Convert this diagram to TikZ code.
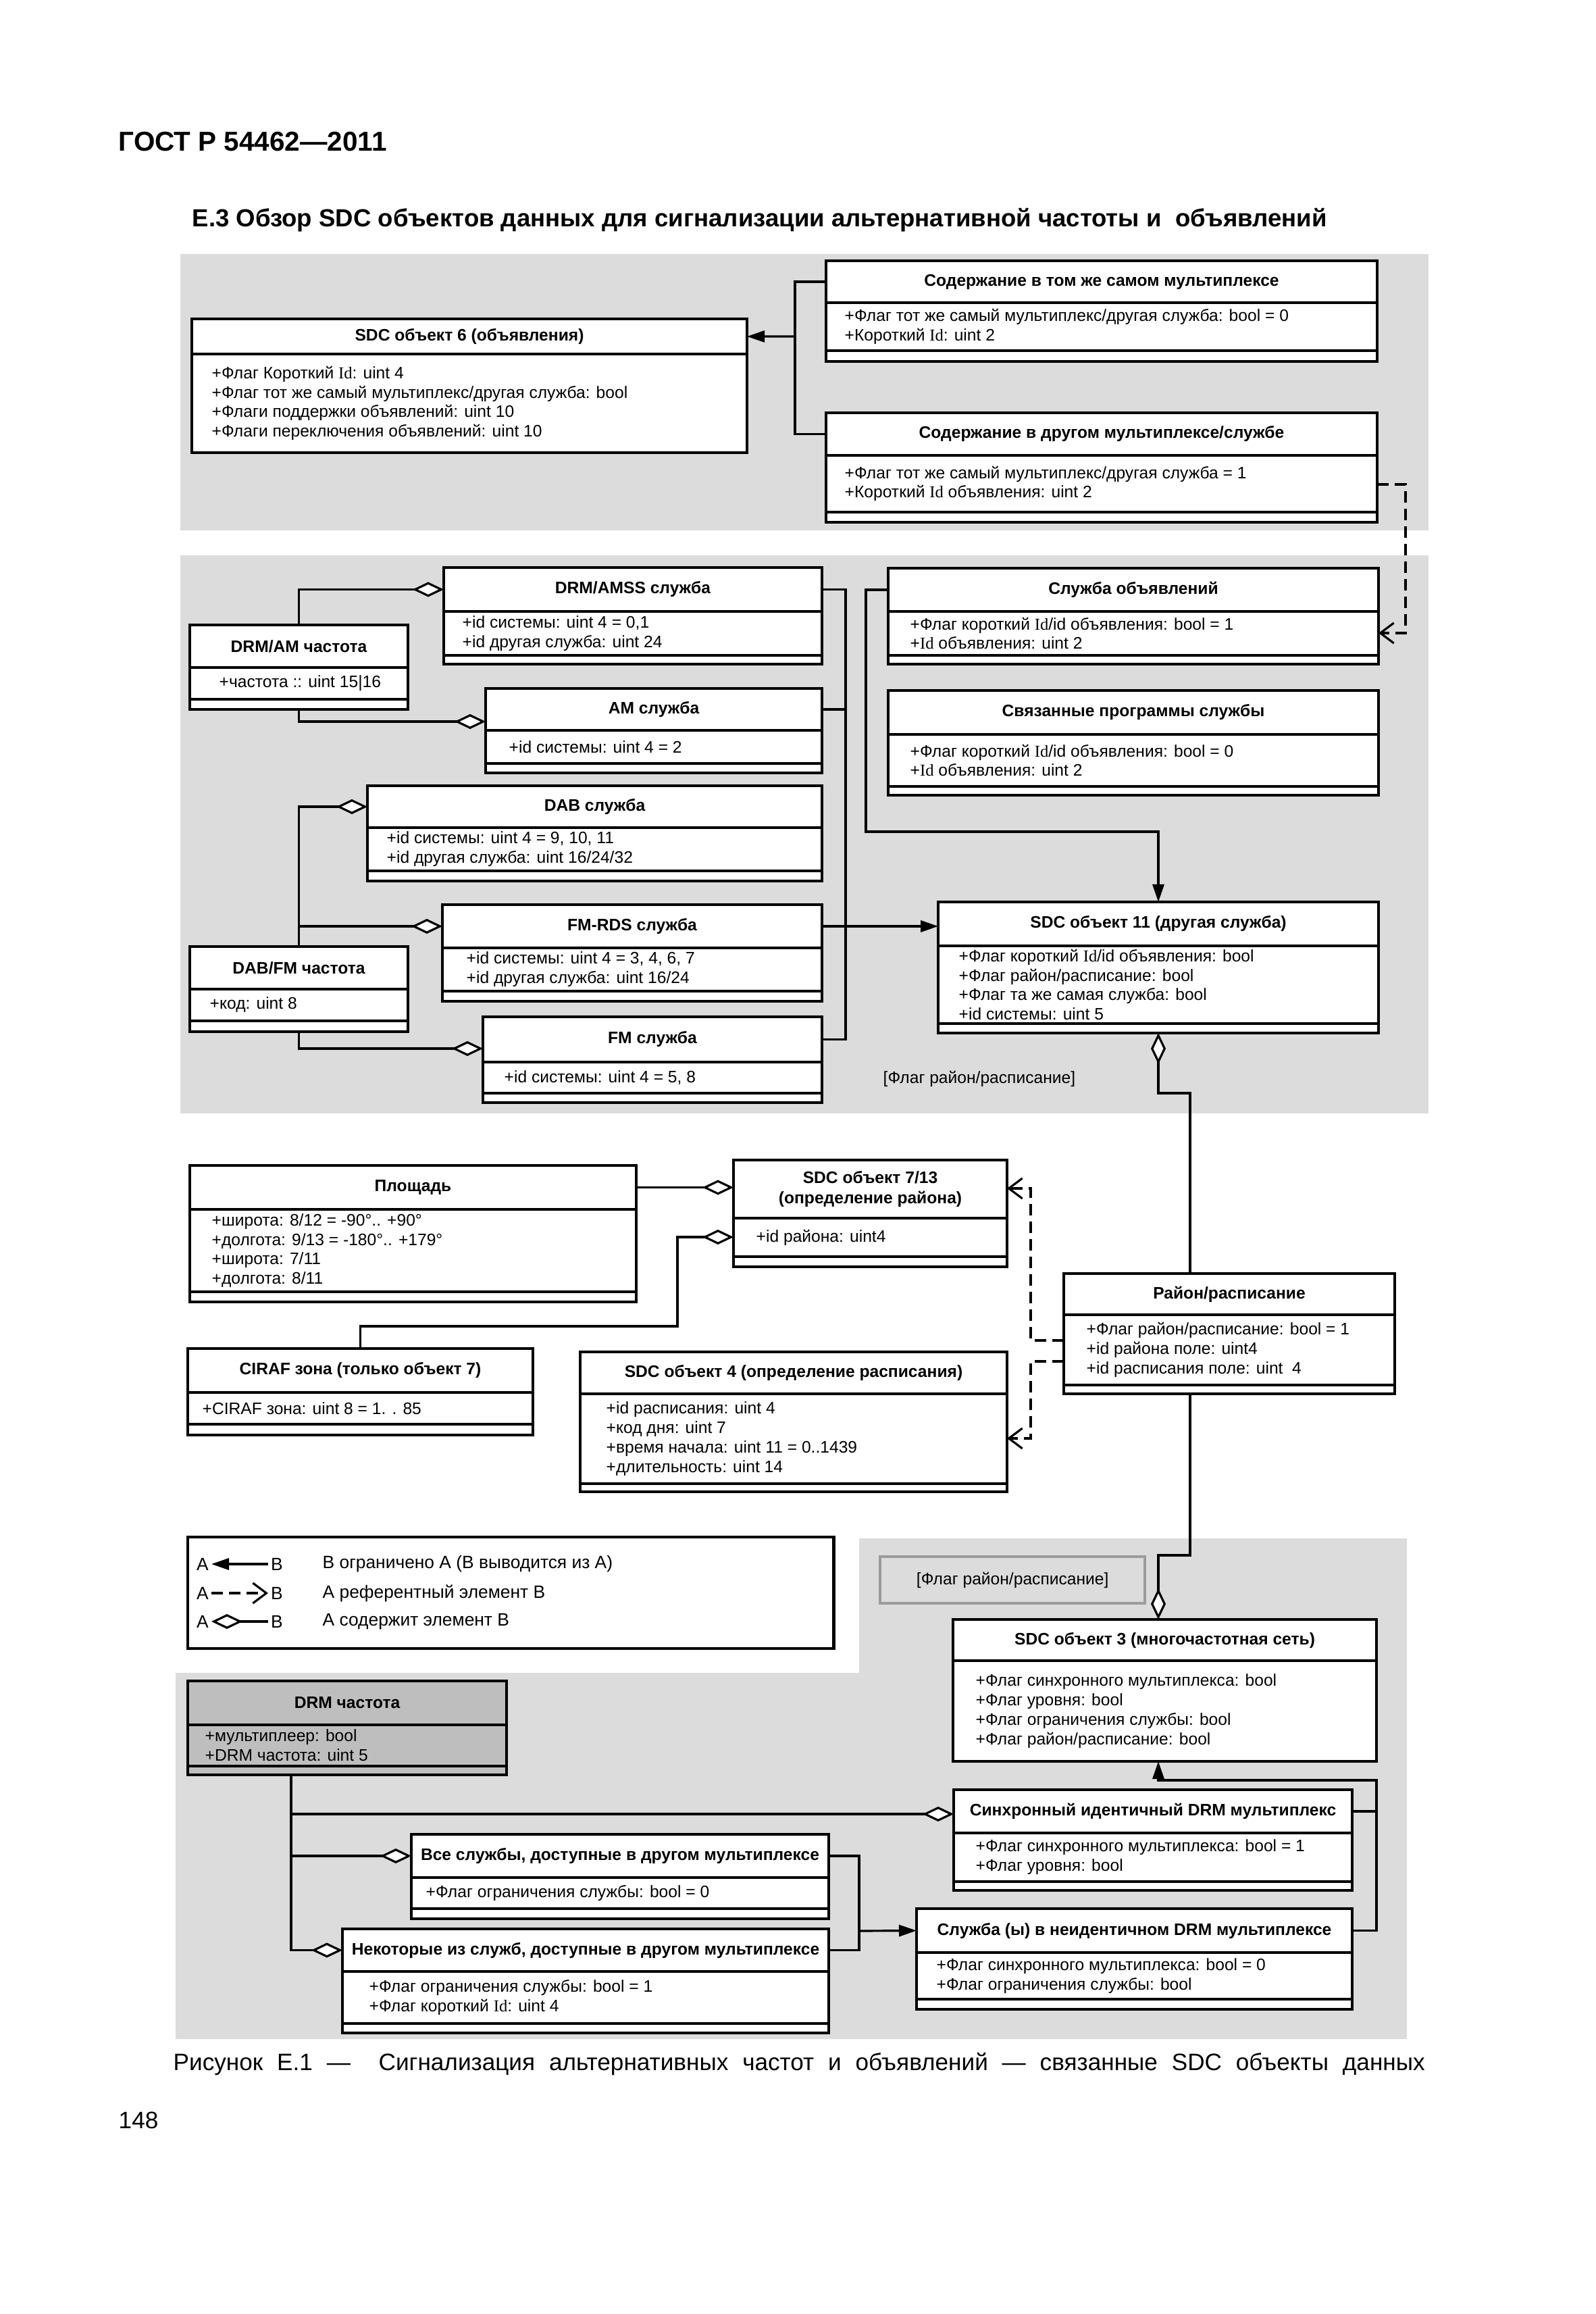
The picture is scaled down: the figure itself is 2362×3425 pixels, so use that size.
\documentclass[tikz,border=0pt]{standalone}
\usepackage{fontspec}
\setmainfont{Liberation Sans}
\newfontfamily\idfont{Liberation Serif}
\usetikzlibrary{arrows.meta}
\newcommand{\myId}{{\idfont Id}}
\definecolor{panelgrey}{RGB}{220,220,220}
\definecolor{boxgrey}{RGB}{190,190,190}
\definecolor{labelgrey}{RGB}{155,155,155}
\tikzset{
  umlframe/.style={draw=black, line width=1pt, inner sep=0pt, outer sep=0pt, anchor=north west, rectangle},
  umltitle/.style={inner sep=0pt, outer sep=0pt, anchor=north west, align=center, font=\fontsize{7}{8.5}\selectfont\bfseries},
  umlattr/.style={inner sep=0pt, anchor=west, align=left, font=\fontsize{7}{8.2}\selectfont},
  frameline/.style={line width=1pt},
  conn/.style={line width=0.9pt},
  gen/.style={conn, -{Triangle[length=0.26cm, width=0.17cm]}},
  agg/.style={conn, -{Diamond[fill=white, length=0.46cm, width=0.22cm]}},
  aggs/.style={conn, {Diamond[fill=white, length=0.46cm, width=0.22cm]}-},
  dep/.style={conn, dash pattern=on 0.17cm off 0.09cm, -{Straight Barb[length=0.2cm, width=0.3cm]}},
  lgtxt/.style={inner sep=1pt, font=\fontsize{7.5}{9}\selectfont},
  plain/.style={inner sep=0pt, font=\fontsize{7}{8.5}\selectfont},
}
\def\getfour#1,#2,#3,#4\relax{\def\bxa{#1}\def\bya{#2}\def\bxb{#3}\def\byb{#4}}
\def\gettwo#1,#2\relax{\def\dda{#1}\def\ddb{#2}}
\newcommand{\umlbox}[7]{%
  \getfour#3\relax
  \gettwo#4\relax
  \pgfmathsetmacro\bw{(\bxb-\bxa)*0.01}%
  \pgfmathsetmacro\bh{(\byb-\bya)*0.01}%
  \pgfmathsetmacro\bth{(\dda-\bya)*0.01}%
  \ifx\ddb\empty\let\ddc\byb\else\let\ddc\ddb\fi
  \pgfmathsetmacro\ay{(\dda+\ddc)/2}%
  \node[umlframe, fill=#2, minimum width=\bw cm, minimum height=\bh cm] (#1) at (\bxa,\bya) {};
  \node[umltitle, minimum width=\bw cm, minimum height=\bth cm] (#1-t) at (\bxa,\bya) {#6};
  \draw[frameline] (\bxa,\dda) -- (\bxb,\dda);
  \ifx\ddb\empty\else\draw[frameline] (\bxa,\ddb) -- (\bxb,\ddb);\fi
  \node[umlattr] (#1-a) at ({\bxa+#5},\ay) {#7};
}
\begin{document}
\begin{tikzpicture}[x=0.01cm, y=-0.01cm]
\useasboundingbox (0,0) rectangle (2362,3425);
\fill[white] (0,0) rectangle (2362,3425);

% headings
\node[anchor=west, inner sep=0, font=\fontsize{11.5}{13}\selectfont\bfseries] (hdr) at (175,210) {ГОСТ Р 54462—2011};
\node[anchor=west, inner sep=0, font=\fontsize{10.4}{12}\selectfont\bfseries] (ttl) at (284,326) {Е.3 Обзор SDC объектов данных для сигнализации альтернативной частоты и\ \ объявлений};

% panels
\fill[panelgrey] (267,376) rectangle (2115,785);
\fill[panelgrey] (267,822) rectangle (2115,1648);
\fill[panelgrey] (1272,2277) -- (2083,2277) -- (2083,3018) -- (260,3018) -- (260,2476) -- (1272,2476) -- cycle;

% top panel
\umlbox{sdc6}{white}{284,472,1106,670}{524,}{29}{SDC объект 6 (объявления)}{+Флаг Короткий \myId: uint 4\\+Флаг тот же самый мультиплекс/другая служба: bool\\+Флаги поддержки объявлений: uint 10\\+Флаги переключения объявлений: uint 10}
\umlbox{same}{white}{1223,386,2039,535}{448,519}{27}{Содержание в том же самом мультиплексе}{+Флаг тот же самый мультиплекс/другая служба: bool = 0\\+Короткий \myId: uint 2}
\umlbox{other}{white}{1223,611,2039,773}{674,758}{27}{Содержание в другом мультиплексе/службе}{+Флаг тот же самый мультиплекс/другая служба = 1\\+Короткий \myId\ объявления: uint 2}

% second panel
\umlbox{amss}{white}{657,840,1217,983}{905,970}{27}{DRM/AMSS служба}{+id системы: uint 4 = 0,1\\+id другая служба: uint 24}
\umlbox{drmam}{white}{281,925,604,1050}{988,1035}{43}{DRM/AM частота}{+частота :: uint 15|16}
\umlbox{am}{white}{719,1019,1217,1144}{1081,1130}{34}{AM служба}{+id системы: uint 4 = 2}
\umlbox{dab}{white}{544,1163,1217,1304}{1225,1289}{28}{DAB служба}{+id системы: uint 4 = 9, 10, 11\\+id другая служба: uint 16/24/32}
\umlbox{fmrds}{white}{655,1339,1217,1482}{1403,1467}{35}{FM-RDS служба}{+id системы: uint 4 = 3, 4, 6, 7\\+id другая служба: uint 16/24}
\umlbox{dabfm}{white}{281,1401,604,1527}{1464,1511}{29}{DAB/FM частота}{+код: uint 8}
\umlbox{fm}{white}{715,1505,1217,1632}{1572,1618}{31}{FM служба}{+id системы: uint 4 = 5, 8}
\umlbox{ann}{white}{1315,841,2041,983}{905,970}{32}{Служба объявлений}{+Флаг короткий \myId/id объявления: bool = 1\\+\myId\ объявления: uint 2}
\umlbox{assoc}{white}{1315,1022,2041,1177}{1087,1164}{32}{Связанные программы службы}{+Флаг короткий \myId/id объявления: bool = 0\\+\myId\ объявления: uint 2}
\umlbox{sdc11}{white}{1389,1335,2041,1529}{1400,1515}{30}{SDC объект 11 (другая служба)}{+Флаг короткий \myId/id объявления: bool\\+Флаг район/расписание: bool\\+Флаг та же самая служба: bool\\+id системы: uint 5}
\node[plain, anchor=west] (flaglbl) at (1307,1597) {[Флаг район/расписание]};

% middle
\umlbox{plosh}{white}{281,1725,942,1927}{1790,1912}{32}{Площадь}{+широта: 8/12 = -90°.. +90°\\+долгота: 9/13 = -180°.. +179°\\+широта: 7/11\\+долгота: 8/11}
\umlbox{sdc713}{white}{1086,1717,1491,1875}{1803,1860}{33}{SDC объект 7/13\\(определение района)}{+id района: uint4}
\umlbox{ciraf}{white}{278,1996,789,2124}{2061,2108}{21}{CIRAF зона (только объект 7)}{+CIRAF зона: uint 8 = 1. . 85}
\umlbox{sdc4}{white}{859,2001,1491,2208}{2063,2196}{38}{SDC объект 4 (определение расписания)}{+id расписания: uint 4\\+код дня: uint 7\\+время начала: uint 11 = 0..1439\\+длительность: uint 14}
\umlbox{rayon}{white}{1575,1885,2065,2063}{1946,2050}{33}{Район/расписание}{+Флаг район/расписание: bool = 1\\+id района поле: uint4\\+id расписания поле: uint\ \ 4}

% legend
\node[draw, line width=1.2pt, minimum width=9.56cm, minimum height=1.65cm, anchor=north west, inner sep=0, outer sep=0] (legend) at (278,2275) {};
\node[lgtxt] (la1) at (300,2315) {А};
\node[lgtxt] (lb1) at (410,2315) {В};
\node[lgtxt] (la2) at (300,2358) {А};
\node[lgtxt] (lb2) at (410,2358) {В};
\node[lgtxt] (la3) at (300,2400) {А};
\node[lgtxt] (lb3) at (410,2400) {В};
\draw[gen] (lb1.west) -- (la1.east);
\draw[dep] (la2.east) -- (lb2.west);
\draw[agg] (lb3.west) -- (la3.east);
\node[lgtxt, anchor=west, inner sep=0] (lt1) at (477,2315) {В ограничено А (В выводится из А)};
\node[lgtxt, anchor=west, inner sep=0] (lt2) at (477,2358) {А референтный элемент В};
\node[lgtxt, anchor=west, inner sep=0] (lt3) at (477,2400) {А содержит элемент В};

% bottom
\node[draw=labelgrey, line width=1.2pt, minimum width=3.92cm, minimum height=0.69cm, anchor=north west, inner sep=0, font=\fontsize{7}{8.5}\selectfont] (flagbox) at (1301,2302) {[Флаг район/расписание]};
\umlbox{sdc3}{white}{1411,2397,2038,2607}{2458,}{33}{SDC объект 3 (многочастотная сеть)}{+Флаг синхронного мультиплекса: bool\\+Флаг уровня: bool\\+Флаг ограничения службы: bool\\+Флаг район/расписание: bool}
\umlbox{sync}{white}{1412,2649,2002,2798}{2713,2785}{32}{Синхронный идентичный DRM мультиплекс}{+Флаг синхронного мультиплекса: bool = 1\\+Флаг уровня: bool}
\umlbox{nonid}{white}{1357,2825,2002,2974}{2890,2959}{29}{Служба (ы) в неидентичном DRM мультиплексе}{+Флаг синхронного мультиплекса: bool = 0\\+Флаг ограничения службы: bool}
\umlbox{drmf}{boxgrey}{278,2488,750,2627}{2553,2614}{25}{DRM частота}{+мультиплеер: bool\\+DRM частота: uint 5}
\umlbox{allsvc}{white}{609,2715,1227,2840}{2779,2825}{21}{Все службы, доступные в другом мультиплексе}{+Флаг ограничения службы: bool = 0}
\umlbox{some}{white}{507,2855,1227,3009}{2918,2995}{39}{Некоторые из служб, доступные в другом мультиплексе}{+Флаг ограничения службы: bool = 1\\+Флаг короткий \myId: uint 4}

% connectors top
\draw[conn] (same-t.west) -- ++(-46,0) |- (other-t.west);
\coordinate (bus6) at (1177,498);
\draw[gen] (bus6) -- (sdc6-t.east);
\draw[dep] (other.east |- 0,717) -- (2081,717) |- (ann.east |- 0,937);

% connectors panel 2
\draw[agg] (drmam.north) |- (amss-t.west);
\draw[agg] (drmam.south) |- (am.west |- 0,1068);
\draw[agg] (dabfm.north) |- (dab-t.west);
\draw[agg] (dabfm.north |- fmrds-t.west) -- (fmrds-t.west);
\draw[agg] (dabfm.south) |- (fm.west |- 0,1552);
\draw[conn] (amss-t.east) -- (amss-t.east -| 1252,0) |- (fm-t.east);
\draw[conn] (am-t.east) -- (am-t.east -| 1252,0);
\draw[gen] (fmrds-t.east) -- (sdc11.west |- fmrds-t.east);
\draw[gen] (ann-t.west) -- ++(-33,0) |- (sdc11.north |- 0,1231) -- (sdc11.north);
\draw[aggs] (sdc11.south) |- (1762,1618) -- (rayon.north -| 1762,0);

% connectors middle
\draw[agg] (plosh-t.east) -- (sdc713.west |- plosh-t.east);
\draw[agg] (ciraf.north) |- (1003,1963) |- (sdc713.west |- 0,1831);
\draw[dep] (rayon.west |- 0,1984) -- (1526,1984) |- (sdc713.east |- 0,1759);
\draw[dep] (rayon.west |- 0,2015) -- (1526,2015) |- (sdc4.east |- 0,2129);
\draw[agg] (rayon.south -| 1762,0) |- (1715,2302) -- (sdc3.north -| 1715,0);

% connectors bottom
\draw[gen] (nonid-t.east) -| (2038,2635) -| (sdc3.south -| 1715,0);
\draw[conn] (sync-t.east) -- (sync-t.east -| 2038,0);
\draw[agg] (drmf.south -| 431,0) |- (sync.west |- 0,2685);
\draw[agg] (drmf.south -| 431,0) |- (allsvc-t.west);
\draw[agg] (drmf.south -| 431,0) |- (some-t.west);
\draw[conn] (allsvc-t.east) -- (allsvc-t.east -| 1272,0) |- (some-t.east);
\coordinate (busb) at (1272,2858);
\draw[gen] (busb) -- (nonid-t.west);

% caption
\node[anchor=west, inner sep=0, font=\fontsize{10}{12}\selectfont] (cap) at (256,3055) {\makebox[18.52cm][s]{Рисунок Е.1 —\ \ Сигнализация альтернативных частот и объявлений — связанные SDC объекты данных}};
\node[anchor=west, inner sep=0, font=\fontsize{10}{12}\selectfont] (pg) at (175,3138) {148};
\end{tikzpicture}
\end{document}
